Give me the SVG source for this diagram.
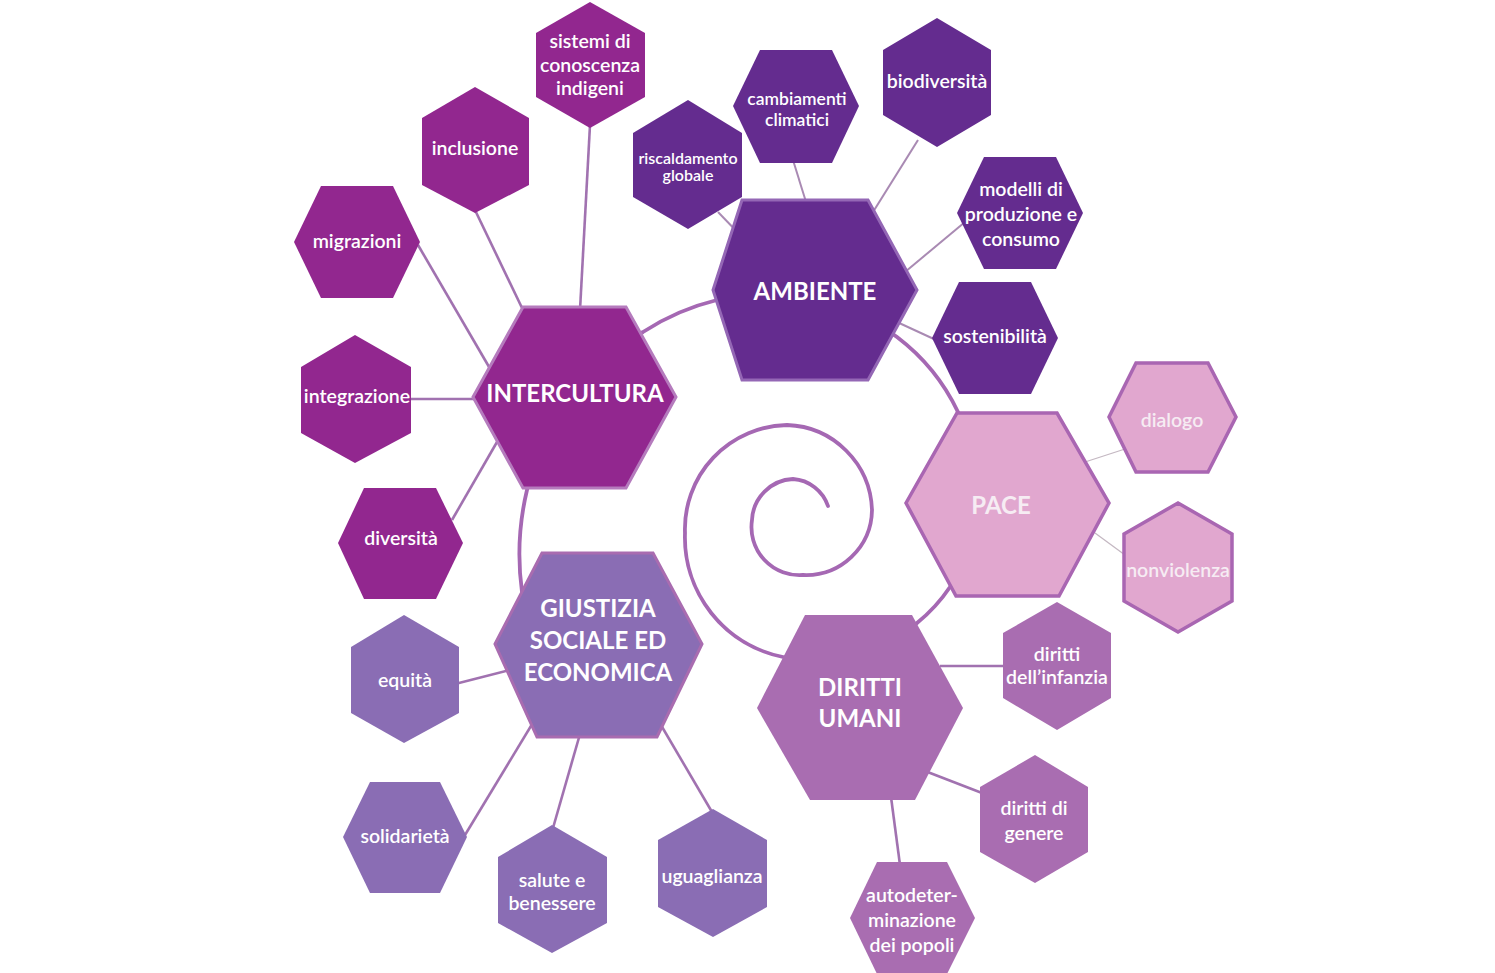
<svg xmlns="http://www.w3.org/2000/svg" width="1495" height="973" viewBox="0 0 1495 973">
<style>
text{font-family:"Lato","Open Sans","Noto Sans",sans-serif;fill:#ffffff;text-anchor:middle}
.sm{font-size:19.5px;font-weight:600}
.xs{font-size:16px;font-weight:600}
.ct{font-size:17.5px;font-weight:600}
.big{font-size:24px;font-weight:700}
.ln{stroke:#a172b0;stroke-width:2.6;fill:none}
.lt{stroke:#a98ab3;stroke-width:2;fill:none}
.lg{stroke:#c4b8c2;stroke-width:1.3;fill:none}
.sp{stroke:#a568b3;stroke-width:3.8;fill:none;stroke-linecap:round}
.ic{fill:#92278f}
.am{fill:#642c8f}
.pc{fill:#e1a7cf;stroke:#a966b2;stroke-width:3.5}
.gs{fill:#8a6db4}
.du{fill:#a96db1}
</style>
<rect width="1495" height="973" fill="#ffffff"/>
<g id="connectors">
<path class="sp" d="M 828 506 A 40 40 0 0 0 793 479 A 43 43 0 0 0 752 520 A 48 48 0 0 0 803 575 A 66 66 0 0 0 872 510 A 88 88 0 0 0 787 425 A 104 104 0 0 0 685 533 A 122 122 0 0 0 783 657 A 148 148 0 0 0 917 623 A 163 163 0 0 0 950 587 A 183 183 0 0 0 958 412 A 204 204 0 0 0 897 337 A 223 223 0 0 0 717 300 A 239 239 0 0 0 643 332 A 256 256 0 0 0 527 490 A 276 276 0 0 0 522 592"/>
<line class="ln" x1="590" y1="125" x2="580" y2="310"/>
<line class="ln" x1="475" y1="210" x2="523" y2="310"/>
<line class="ln" x1="418" y1="245" x2="492" y2="372"/>
<line class="ln" x1="408" y1="399" x2="476" y2="399"/>
<line class="ln" x1="452" y1="520" x2="497" y2="442"/>
<line class="lt" x1="718" y1="212" x2="745" y2="240"/>
<line class="lt" x1="793" y1="160" x2="806" y2="202"/>
<line class="lt" x1="918" y1="140" x2="873" y2="212"/>
<line class="lt" x1="965" y1="222" x2="905" y2="272"/>
<line class="lt" x1="897" y1="322" x2="936" y2="340"/>
<line class="lg" x1="1085" y1="462" x2="1125" y2="449"/>
<line class="lg" x1="1095" y1="533" x2="1125" y2="555"/>
<line class="ln" x1="455" y1="684" x2="510" y2="670"/>
<line class="ln" x1="465" y1="835" x2="537" y2="716"/>
<line class="ln" x1="553" y1="828" x2="580" y2="734"/>
<line class="ln" x1="712" y1="812" x2="658" y2="720"/>
<line class="ln" x1="940" y1="666" x2="1005" y2="666"/>
<line class="ln" x1="925" y1="771" x2="982" y2="793"/>
<line class="ln" x1="891" y1="797" x2="900" y2="865"/>
</g>
<g id="intercultura">
<polygon class="ic" points="473,397 523,307 626,307 676,397 626,488 523,488" stroke="#b57bbd" stroke-width="3"/>
<text class="big" x="575" y="402">INTERCULTURA</text>
</g>
<g id="sistemi">
<polygon class="ic" points="590,2 645,33 645,97 590,128 536,97 536,33"/>
<text class="sm" x="590" y="48">sistemi di</text>
<text class="sm" x="590" y="72">conoscenza</text>
<text class="sm" x="590" y="95">indigeni</text>
</g>
<g id="inclusione">
<polygon class="ic" points="475,87 529,118 529,185 475,213 422,185 422,118"/>
<text class="sm" x="475" y="155">inclusione</text>
</g>
<g id="migrazioni">
<polygon class="ic" points="294,242 321,186 393,186 420,242 393,298 321,298"/>
<text class="sm" x="357" y="248">migrazioni</text>
</g>
<g id="integrazione">
<polygon class="ic" points="355,335 411,367 411,433 355,463 301,433 301,367"/>
<text class="sm" x="357" y="403">integrazione</text>
</g>
<g id="diversita">
<polygon class="ic" points="338,543 364,488 436,488 463,543 436,599 364,599"/>
<text class="sm" x="401" y="545">diversità</text>
</g>
<g id="ambiente">
<polygon class="am" points="713,290 742,200 868,200 917,290 868,380 742,380" stroke="#9467b5" stroke-width="3"/>
<text class="big" x="815" y="300">AMBIENTE</text>
</g>
<g id="riscaldamento">
<polygon class="am" points="688,100 742,133 742,197 688,229 633,197 633,133"/>
<text class="xs" x="688" y="164">riscaldamento</text>
<text class="xs" x="688" y="181">globale</text>
</g>
<g id="cambiamenti">
<polygon class="am" points="733,106 760,50 832,50 859,106 832,163 760,163"/>
<text class="ct" x="797" y="105">cambiamenti</text>
<text class="ct" x="797" y="126">climatici</text>
</g>
<g id="biodiversita">
<polygon class="am" points="937,18 991,50 991,115 937,147 883,115 883,50"/>
<text class="sm" x="937" y="88">biodiversità</text>
</g>
<g id="modelli">
<polygon class="am" points="957,213 984,157 1056,157 1083,213 1056,269 984,269"/>
<text class="sm" x="1021" y="196">modelli di</text>
<text class="sm" x="1021" y="221">produzione e</text>
<text class="sm" x="1021" y="246">consumo</text>
</g>
<g id="sostenibilita">
<polygon class="am" points="932,338 959,282 1031,282 1058,338 1031,394 959,394"/>
<text class="sm" x="995" y="343">sostenibilità</text>
</g>
<g id="pace">
<polygon class="pc" points="906,503 957,413 1057,413 1109,503 1059,596 956,596"/>
<text class="big" x="1001" y="514" style="fill:#f6ecf3">PACE</text>
</g>
<g id="dialogo">
<polygon class="pc" points="1109,417 1136,363 1208,363 1236,417 1208,472 1136,472"/>
<text class="sm" x="1172" y="427" style="fill:#f6ecf3">dialogo</text>
</g>
<g id="nonviolenza">
<polygon class="pc" points="1178,503 1232,534 1232,601 1178,632 1124,601 1124,534"/>
<text class="sm" x="1178" y="577" style="fill:#f6ecf3">nonviolenza</text>
</g>
<g id="giustizia">
<polygon class="gs" points="495,644 542,553 653,553 702,644 657,737 537,737" stroke="#a96cb0" stroke-width="3"/>
<text class="big" x="598" y="617">GIUSTIZIA</text>
<text class="big" x="598" y="649">SOCIALE ED</text>
<text class="big" x="598" y="681">ECONOMICA</text>
</g>
<g id="equita">
<polygon class="gs" points="404,615 459,647 459,713 404,743 351,713 351,647"/>
<text class="sm" x="405" y="687">equità</text>
</g>
<g id="solidarieta">
<polygon class="gs" points="343,837 370,782 440,782 467,837 440,893 370,893"/>
<text class="sm" x="405" y="843">solidarietà</text>
</g>
<g id="salute">
<polygon class="gs" points="552,825 607,857 607,923 552,953 498,923 498,857"/>
<text class="sm" x="552" y="887">salute e</text>
<text class="sm" x="552" y="910">benessere</text>
</g>
<g id="uguaglianza">
<polygon class="gs" points="713,809 767,840 767,907 713,937 658,907 658,840"/>
<text class="sm" x="712" y="883">uguaglianza</text>
</g>
<g id="diritti-umani">
<polygon class="du" points="757,708 805,615 912,615 963,708 915,800 810,800"/>
<text class="big" x="860" y="696">DIRITTI</text>
<text class="big" x="860" y="727">UMANI</text>
</g>
<g id="diritti-infanzia">
<polygon class="du" points="1057,602 1111,633 1111,698 1057,730 1003,698 1003,633"/>
<text class="sm" x="1057" y="661">diritti</text>
<text class="sm" x="1057" y="684">dell’infanzia</text>
</g>
<g id="diritti-genere">
<polygon class="du" points="1035,755 1088,787 1088,852 1035,883 980,852 980,787"/>
<text class="sm" x="1034" y="815">diritti di</text>
<text class="sm" x="1034" y="840">genere</text>
</g>
<g id="autodeterminazione">
<polygon class="du" points="850,918 877,862 947,862 975,918 947,974 877,974"/>
<text class="sm" x="912" y="902">autodeter-</text>
<text class="sm" x="912" y="927">minazione</text>
<text class="sm" x="912" y="952">dei popoli</text>
</g>
</svg>
